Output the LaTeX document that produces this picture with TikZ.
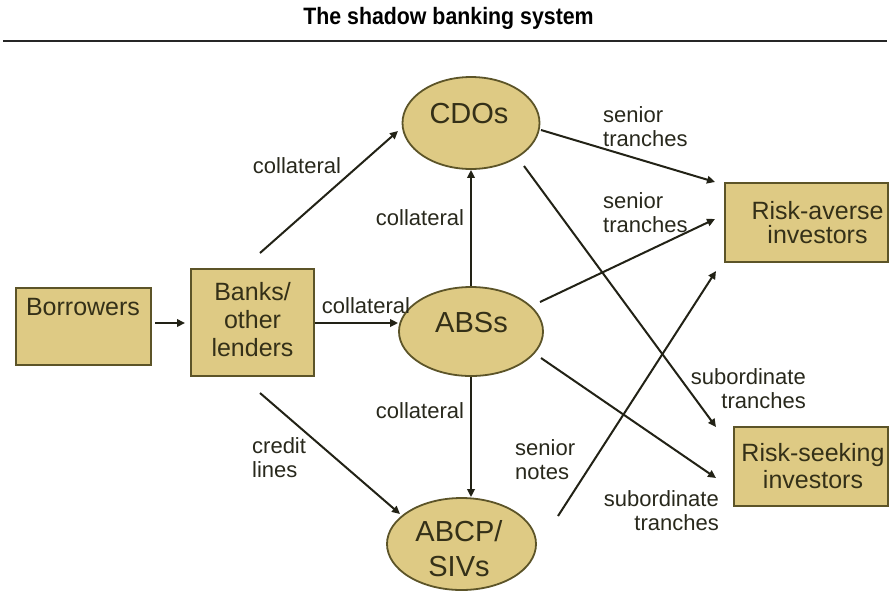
\documentclass[tikz,border=0pt]{standalone}
\usepackage{fontspec}
\setmainfont{Liberation Sans}
\usepackage{graphicx}
\usetikzlibrary{shapes.geometric,arrows.meta}
\definecolor{boxfill}{RGB}{222,202,132}
\definecolor{boxline}{RGB}{92,84,40}
\definecolor{nodetxt}{RGB}{52,48,24}
\definecolor{lbltxt}{RGB}{40,40,28}
\definecolor{arrowc}{RGB}{34,34,22}
\begin{document}
\begin{tikzpicture}[x=1pt,y=-1pt,
  boxnode/.style={draw=boxline,fill=boxfill,line width=2pt,rectangle,inner sep=0pt},
  ellnode/.style={draw=boxline,fill=boxfill,line width=1.8pt,ellipse,inner sep=0pt},
  nodetext/.style={text=nodetxt,font=\fontsize{25}{28}\selectfont,align=center,inner sep=0pt},
  elltext/.style={text=nodetxt,font=\fontsize{29}{35}\selectfont,align=center,inner sep=0pt},
  lbl/.style={text=lbltxt,font=\fontsize{22}{24}\selectfont,inner sep=0pt},
  arr/.style={draw=arrowc,line width=2pt,-{Triangle[length=8pt,width=7.5pt]}}
]
\useasboundingbox (0,0) rectangle (890,590);

% title and rule
\node[anchor=base,inner sep=0pt,text=black] (title) at (448.5,24)
  {\fontsize{23.7}{28}\selectfont\bfseries\scalebox{0.9}[1]{The shadow banking system}};
\coordinate (ruleL) at (3,41);
\coordinate (ruleR) at (887,41);
\draw[line width=2pt,black!85] (ruleL) -- (ruleR);

% boxes
\node[boxnode,minimum width=135pt,minimum height=77pt] (borrowers) at (83,326.5) {};
\node[nodetext] (borrowersT) at (83,307.5) {Borrowers};
\node[boxnode,minimum width=123pt,minimum height=107pt] (banks) at (252.5,322.5) {};
\node[nodetext] (banksT) at (252.5,320) {Banks/\\other\\lenders};
\node[boxnode,minimum width=163pt,minimum height=79pt] (averse) at (806.5,222.5) {};
\node[nodetext,font=\fontsize{25}{24}\selectfont] (averseT) at (817.5,223) {Risk-averse\\investors};
\node[boxnode,minimum width=154pt,minimum height=79pt] (seeking) at (811,466.5) {};
\node[nodetext,font=\fontsize{25}{27}\selectfont] (seekingT) at (813,466) {Risk-seeking\\investors};

% ellipses
\node[ellnode,minimum width=137pt,minimum height=92pt] (cdo) at (471,123) {};
\node[elltext] (cdoT) at (469,114) {CDOs};
\node[ellnode,minimum width=144pt,minimum height=89pt] (abs) at (471,331.5) {};
\node[elltext] (absT) at (471.5,322.5) {ABSs};
\node[ellnode,minimum width=149pt,minimum height=92pt] (abcp) at (461.5,544) {};
\node[elltext] (abcpT) at (459,549) {ABCP/\\SIVs};

% free arrow ends
\coordinate (b2cS) at (260,253);   \coordinate (b2cE) at (398,131);
\coordinate (b2aS) at (260,393);   \coordinate (b2aE) at (400,514);
\coordinate (c2raS) at (541,130);  \coordinate (c2raE) at (715,182);
\coordinate (a2raS) at (540,302);  \coordinate (a2raE) at (715,219);
\coordinate (c2rsS) at (524,166);  \coordinate (c2rsE) at (716,427);
\coordinate (a2rsS) at (541,358);  \coordinate (a2rsE) at (716,478);
\coordinate (p2raS) at (558,516);  \coordinate (p2raE) at (716,271);
\coordinate (brS) at (155,323);    \coordinate (brE) at (185,323);

% connectors
\draw[arr] (brS) -- (brE);
\draw[arr] (banks.east |- brS) -- (abs.west |- brS);
\draw[arr] (b2cS) -- (b2cE);
\draw[arr] (abs.north) -- (cdo.south);
\draw[arr] (b2aS) -- (b2aE);
\draw[arr] (abs.south) -- (abs.south |- abcp.north);
\draw[arr] (c2raS) -- (c2raE);
\draw[arr] (a2raS) -- (a2raE);
\draw[arr] (c2rsS) -- (c2rsE);
\draw[arr] (a2rsS) -- (a2rsE);
\draw[arr] (p2raS) -- (p2raE);

% labels
\node[lbl] (l1) at (297,166) {collateral};
\node[lbl] (l2) at (420,218) {collateral};
\node[lbl] (l3) at (366,306) {collateral};
\node[lbl] (l4) at (420,411) {collateral};
\node[lbl,anchor=west,align=left] (l5) at (252,458) {credit\\lines};
\node[lbl,anchor=west,align=left] (l6) at (603,127) {senior\\tranches};
\node[lbl,anchor=west,align=left] (l7) at (603,213) {senior\\tranches};
\node[lbl,anchor=east,align=right] (l8) at (806,389) {subordinate\\tranches};
\node[lbl,anchor=east,align=right] (l9) at (719,511) {subordinate\\tranches};
\node[lbl,anchor=west,align=left] (l10) at (515,460) {senior\\notes};
\end{tikzpicture}
\end{document}
